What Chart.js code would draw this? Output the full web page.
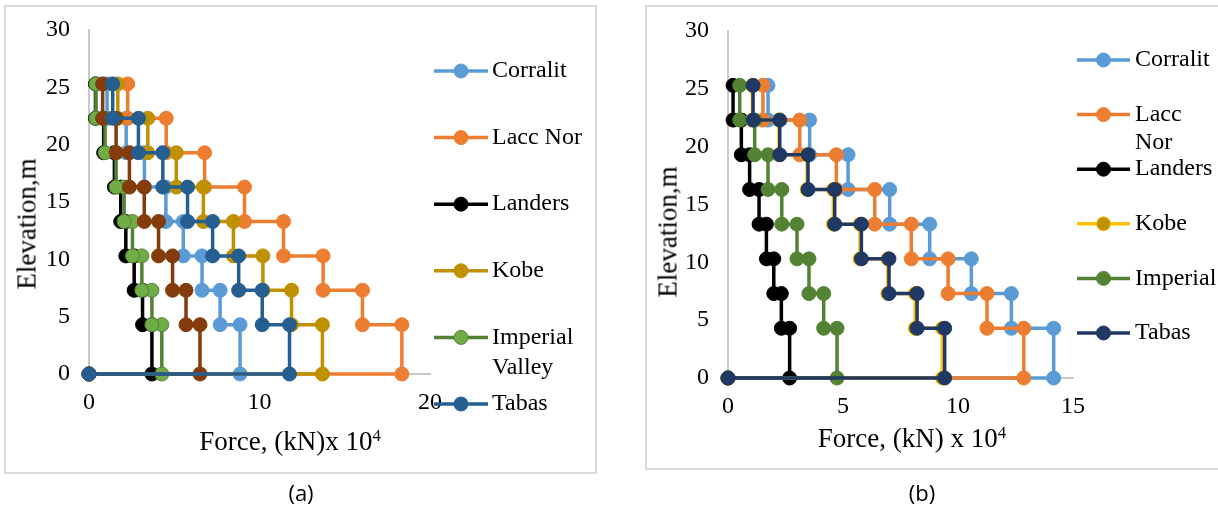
<!DOCTYPE html>
<html>
<head>
<meta charset="utf-8">
<script src="https://cdn.jsdelivr.net/npm/chart.js@4.4.0/dist/chart.umd.min.js"></script>
<style>
  body { margin: 0; width: 1218px; height: 510px; background: #fff; position: relative; overflow: hidden; font-family: "Liberation Serif", serif; }
  .box { position: absolute; border: 2px solid #dadada; box-sizing: border-box; }
  #boxA { left: 4px; top: 5px; width: 593px; height: 469px; }
  #boxB { left: 645px; top: 5px; width: 600px; height: 465px; }
  canvas { position: absolute; }
  .title { position: absolute; white-space: nowrap; color: #000; line-height: 1; transform: translate(-50%, -50%); }
  .title.y { transform: translate(-50%, -50%) rotate(-90deg); }
  .title sup { font-size: 0.62em; vertical-align: baseline; position: relative; top: -0.55em; }
  .cap { position: absolute; font-family: "Open Sans", sans-serif; font-size: 22px; transform: translate(-50%, -50%); }
</style>
</head>
<body>
<div class="box" id="boxA"></div>
<div class="box" id="boxB"></div>
<canvas id="chartA" width="589" height="465" style="left:6px; top:7px;"></canvas>
<canvas id="chartB" width="571" height="460" style="left:647px; top:8px;"></canvas>

<div class="title y" style="left:27px; top:224px; font-size:27px;">Elevation,m</div>
<div class="title" style="left:290px; top:441px; font-size:27px;">Force, (kN)x 10<sup>4</sup></div>
<div class="title y" style="left:668px; top:232px; font-size:27px;">Elevation,m</div>
<div class="title" style="left:912px; top:438px; font-size:27px;">Force, (kN) x 10<sup>4</sup></div>
<div class="cap" style="left:301px; top:492px;">(a)</div>
<div class="cap" style="left:922px; top:492px;">(b)</div>

<script>
// storey levels (m) where the force steps
const storyLevels = [0, 4.3, 7.3, 10.3, 13.3, 16.3, 19.3, 22.3, 25.3];

// (a) force per storey, bottom to top, x 10^4 kN
const corralitA = [8.86, 7.69, 6.63, 5.53, 4.51, 3.25, 2.18, 1.06];
const laccNorA = [18.35, 16.04, 13.73, 11.41, 9.12, 6.78, 4.53, 2.27];
const landersA = [3.69, 3.14, 2.65, 2.16, 1.86, 1.49, 0.86, 0.38];
const kobeA = [13.69, 11.88, 10.20, 8.47, 6.71, 5.12, 3.45, 1.69];
const imperialA = [4.27, 3.69, 3.10, 2.55, 2.06, 1.59, 0.94, 0.41];
const unlabeledA = [6.51, 5.69, 4.90, 4.08, 3.24, 2.37, 1.59, 0.80];
const tabasA = [11.76, 10.16, 8.78, 7.25, 5.78, 4.33, 2.90, 1.39];

// (b)
const corralitB = [14.16, 12.32, 10.58, 8.77, 7.03, 5.22, 3.55, 1.74];
const laccNorB = [12.86, 11.26, 9.57, 7.97, 6.38, 4.71, 3.12, 1.52];
const landersB = [2.68, 2.32, 1.99, 1.67, 1.35, 0.94, 0.58, 0.22];
const kobeB = [9.32, 8.14, 6.95, 5.74, 4.58, 3.44, 2.22, 1.06];
const imperialB = [4.74, 4.16, 3.52, 3.00, 2.34, 1.74, 1.16, 0.51];
const tabasB = [9.42, 8.22, 7.00, 5.80, 4.64, 3.48, 2.25, 1.09];

const xTicksA = [0, 10, 20];
const xTicksB = [0, 5, 10, 15];
const yTicks = [0, 5, 10, 15, 20, 25, 30];

// (0,0) -> out along the base, then up storey by storey
function stepPoints(forces) {
    const pts = [{ x: 0, y: 0 }];
    forces.forEach((f, i) => {
        pts.push({ x: f, y: storyLevels[i] });
        pts.push({ x: f, y: storyLevels[i + 1] });
    });
    return pts;
}

function series(label, forces, line, fill, edge, idx, total) {
    return {
        label: label,
        data: stepPoints(forces),
        showLine: true,
        borderColor: line,
        borderWidth: 3.5,
        pointRadius: 7,
        pointHoverRadius: 7,
        pointBackgroundColor: fill,
        pointBorderColor: edge,
        pointBorderWidth: 1,
        clip: false,
        order: total - idx
    };
}

function wrapText(ctx, text, maxWidth) {
    const words = text.split(" ");
    const lines = [];
    let cur = "";
    words.forEach(w => {
        const test = cur ? cur + " " + w : w;
        if (cur && ctx.measureText(test).width > maxWidth) {
            lines.push(cur);
            cur = w;
        } else {
            cur = test;
        }
    });
    lines.push(cur);
    return lines;
}

// Excel-like legend: line + marker, evenly spaced down the right side
const sideLegend = {
    id: "sideLegend",
    afterDraw(chart, args, opts) {
        const ctx = chart.ctx;
        ctx.save();
        ctx.font = opts.size + 'px "Liberation Serif"';
        ctx.textBaseline = "middle";
        ctx.textAlign = "left";
        let y = opts.top;
        chart.data.datasets.forEach(ds => {
            if (!ds.label) return;
            ctx.strokeStyle = ds.borderColor;
            ctx.lineWidth = ds.borderWidth;
            ctx.beginPath();
            ctx.moveTo(opts.x1, y);
            ctx.lineTo(opts.x2, y);
            ctx.stroke();
            ctx.beginPath();
            ctx.arc((opts.x1 + opts.x2) / 2, y, ds.pointRadius, 0, Math.PI * 2);
            ctx.fillStyle = ds.pointBackgroundColor;
            ctx.fill();
            ctx.lineWidth = ds.pointBorderWidth;
            ctx.strokeStyle = ds.pointBorderColor;
            ctx.stroke();
            ctx.fillStyle = "#000";
            wrapText(ctx, ds.label, opts.maxWidth).forEach((t, k) => {
                ctx.fillText(t, opts.textX, y + k * opts.lineHeight);
            });
            y += opts.step;
        });
        ctx.restore();
    }
};

const tickFont = { family: "Liberation Serif", size: 24 };

// tick gap is given through tickLength (marks hidden) so it does not push the plot top down
function axes(xMax, xTicks, yWidth, xHeight) {
    return {
        x: {
            type: "linear", min: 0, max: xMax,
            afterBuildTicks: s => { s.ticks = xTicks.map(v => ({ value: v })); },
            ticks: { font: tickFont, color: "#000", padding: 0 },
            grid: { display: false, drawTicks: true, tickLength: 14 },
            border: { color: "#c9c9c9", width: 2 },
            afterFit: s => { s.height = xHeight; }
        },
        y: {
            min: 0, max: 30,
            afterBuildTicks: s => { s.ticks = yTicks.map(v => ({ value: v })); },
            ticks: { font: tickFont, color: "#000", padding: 0 },
            grid: { display: false, drawTicks: true, tickLength: 19 },
            border: { color: "#c9c9c9", width: 2 },
            afterFit: s => { s.width = yWidth; }
        }
    };
}

const chartA = new Chart(document.getElementById("chartA"), {
    type: "scatter",
    data: {
        datasets: [
            series("Corralit", corralitA, "#5B9BD5", "#5B9BD5", "#5B9BD5", 0, 7),
            series("Lacc Nor", laccNorA, "#ED7D31", "#ED7D31", "#ED7D31", 1, 7),
            series("Landers", landersA, "#000000", "#000000", "#000000", 2, 7),
            series("Kobe", kobeA, "#BF9000", "#BF9000", "#BF9000", 3, 7),
            series("Imperial Valley", imperialA, "#548235", "#70AD47", "#548235", 4, 7),
            series("", unlabeledA, "#843C0C", "#843C0C", "#843C0C", 5, 7),
            series("Tabas", tabasA, "#255E91", "#255E91", "#255E91", 6, 7)
        ]
    },
    options: {
        responsive: false,
        animation: false,
        layout: { padding: { left: 0, top: 23, right: 165, bottom: 0 } },
        scales: axes(20, xTicksA, 83, 98),
        plugins: {
            legend: { display: false },
            tooltip: { enabled: false },
            sideLegend: { x1: 428, x2: 482, textX: 486, top: 64, step: 66.6, lineHeight: 30, size: 24, maxWidth: 100 }
        }
    },
    plugins: [sideLegend]
});

const chartB = new Chart(document.getElementById("chartB"), {
    type: "scatter",
    data: {
        datasets: [
            series("Corralit", corralitB, "#5B9BD5", "#5B9BD5", "#5B9BD5", 0, 6),
            series("Lacc Nor", laccNorB, "#ED7D31", "#ED7D31", "#ED7D31", 1, 6),
            series("Landers", landersB, "#000000", "#000000", "#000000", 2, 6),
            series("Kobe", kobeB, "#FFC000", "#BF9000", "#FFC000", 3, 6),
            series("Imperial", imperialB, "#548235", "#548235", "#548235", 4, 6),
            series("Tabas", tabasB, "#203864", "#203864", "#203864", 5, 6)
        ]
    },
    options: {
        responsive: false,
        animation: false,
        layout: { padding: { left: 0, top: 23, right: 145, bottom: 0 } },
        scales: axes(15, xTicksB, 81, 90),
        plugins: {
            legend: { display: false },
            tooltip: { enabled: false },
            sideLegend: { x1: 430, x2: 483, textX: 488, top: 52, step: 54.6, lineHeight: 28, size: 24, maxWidth: 86 }
        }
    },
    plugins: [sideLegend]
});
</script>
</body>
</html>
